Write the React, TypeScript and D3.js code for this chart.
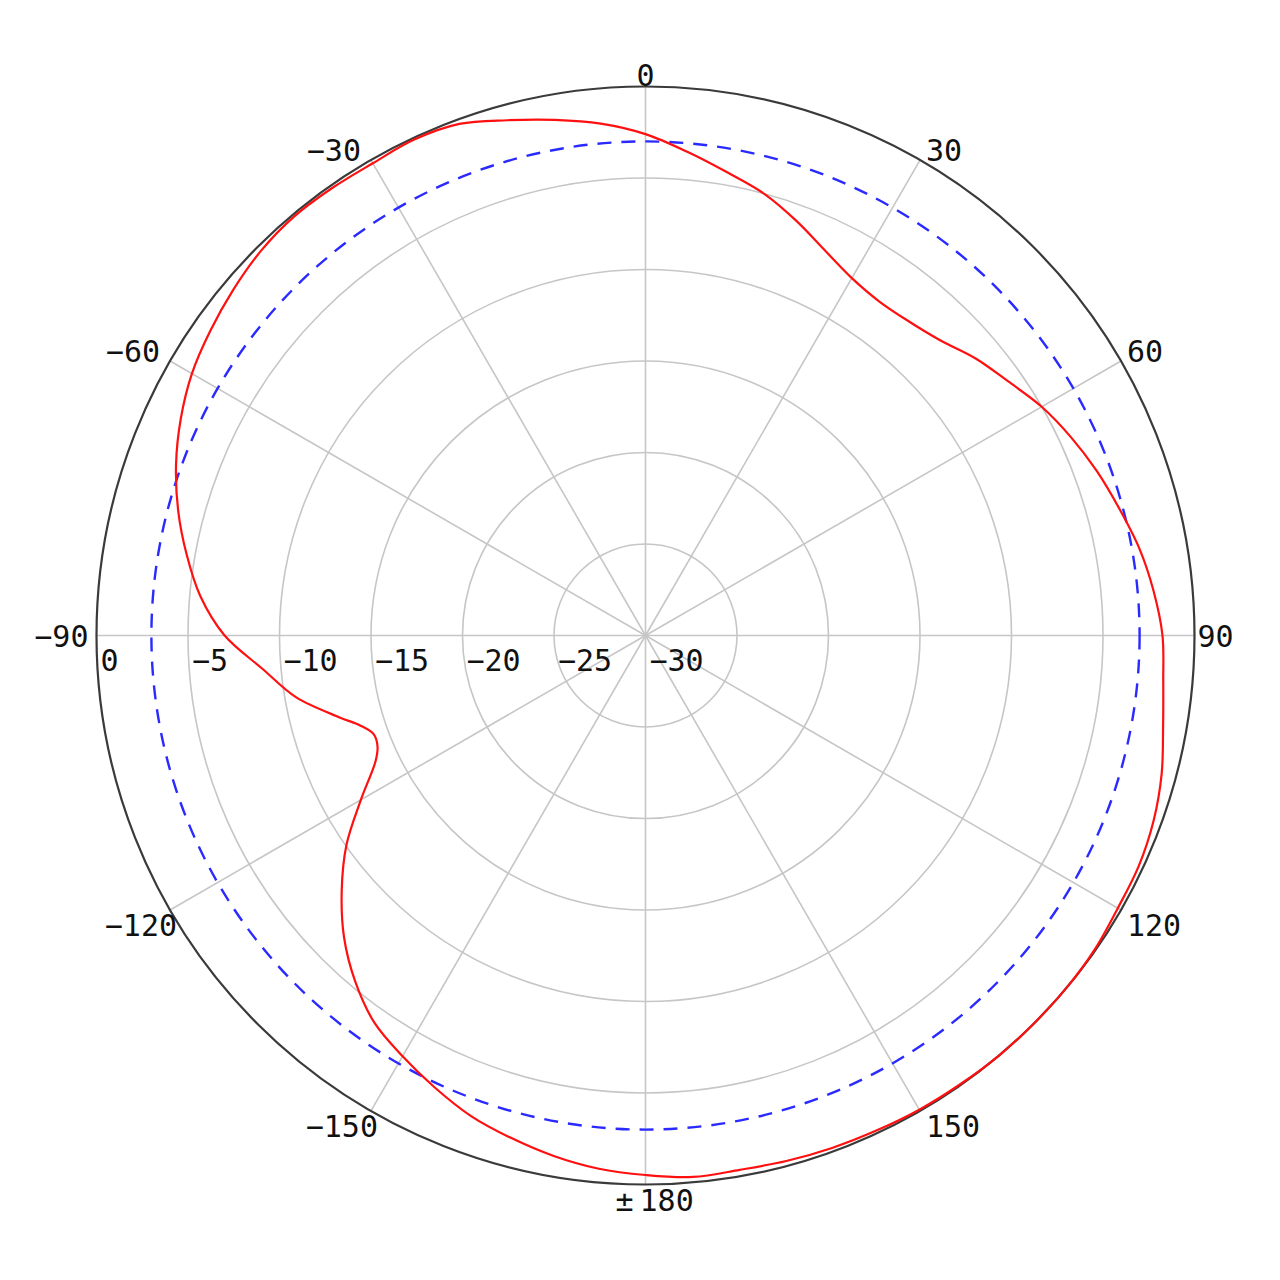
import React, { useEffect } from "react";
import * as d3 from "d3";

// Measured antenna pattern (degrees, dB)
const ANGLES = [
  -180, -175, -170, -165, -160, -155, -150, -145, -140, -135, -130, -125, -120, -115, -112.5, -110,
  -107.5, -105, -100, -95, -90, -85, -80, -75, -70, -65, -60, -55, -50, -45, -40, -35, -30, -25, -20,
  -15, -10, -5, 0, 5, 10, 15, 20, 25, 30, 35, 40, 45, 50, 55, 60, 65, 70, 75, 80, 85, 90, 95,
  100, 105, 110, 115, 120, 125, 130, 135, 140, 145, 150, 155, 160, 165, 170, 175,
];
const GAIN_DB = [
  -0.52, -0.75, -1.12, -1.58, -2.07, -2.75, -3.45, -4.17, -5.32, -6.7, -8.33, -10.05, -12.04, -13.72, -14.15, -14.2,
  -13.65, -12.7, -10.6, -9.0, -7.0, -5.59, -4.54, -3.56, -2.7, -1.98, -1.38, -0.97, -0.6, -0.28, -0.12, -0.15, -0.2, -0.1, -0.25,
  -0.85, -1.39, -1.92, -2.6, -3.48, -4.3, -5.0, -5.89, -6.79, -7.45, -7.72, -7.6, -7.2, -6.45, -5.8, -5.0, -4.35, -3.75, -3.2, -2.6, -2.13, -1.75, -1.6,
  -1.28, -0.8, -0.45, -0.25, -0.2, -0.05, 0, 0, 0, -0.05, -0.08, -0.15, -0.2, -0.27, -0.35, -0.3,
];
const REF_LEVEL_DB = -3;
const RING_TICKS = [0, -5, -10, -15, -20, -25, -30];
const RING_LABELS = ["0", "\u22125", "\u221210", "\u221215", "\u221220", "\u221225", "\u221230"];
const ANGLE_TICKS = [0, 30, 60, 90, 120, 150, 180, -150, -120, -90, -60, -30];
const ANGLE_LABELS = ["0", "30", "60", "90", "120", "150", "\u00b1180", "\u2212150", "\u2212120", "\u221290", "\u221260", "\u221230"];

const W = 1280;
const H = 1280;
const CX = 645.5;
const CY = 635.5;
const R = 549;
const FONT = "'DejaVu Sans Mono', monospace";

export default function App() {
  useEffect(() => {
    document.body.style.margin = "0";
    document.body.style.overflow = "hidden";
  }, []);

  const r = d3.scaleLinear().domain([-30, 0]).range([0, R]).clamp(true);
  const a = d3.scaleLinear().domain([-180, 180]).range([-Math.PI, Math.PI]);

  const pts = ANGLES.map((ang, i) => [a(ang), r(GAIN_DB[i])] as [number, number]);
  const line = d3
    .lineRadial<[number, number]>()
    .angle((d) => d[0])
    .radius((d) => d[1])
    .curve(d3.curveCatmullRomClosed.alpha(0.5));

  const gridGray = "#c6c6c6";

  const angleLabel = (ang: number, i: number) => {
    const rad = a(ang);
    const px = CX + R * Math.sin(rad);
    const py = CY - R * Math.cos(rad);
    const lbl = ANGLE_LABELS[i];
    const common = { fontFamily: FONT, fontSize: 30, fill: "#111" };
    if (ang === 0) {
      return (
        <text key={i} x={px} y={py - 1} textAnchor="middle" {...common}>
          {lbl}
        </text>
      );
    }
    if (ang === 180) {
      return (
        <text key={i} x={px - 30} y={py + 26} {...common}>
          <tspan>{lbl.slice(0, 1)}</tspan>
          <tspan dx={6}>{lbl.slice(1)}</tspan>
        </text>
      );
    }
    if (ang === 90) {
      return (
        <text key={i} x={px + 3} y={py + 11} textAnchor="start" {...common}>
          {lbl}
        </text>
      );
    }
    if (ang === -90) {
      return (
        <text key={i} x={px - 8} y={py + 11} textAnchor="end" {...common}>
          {lbl}
        </text>
      );
    }
    const upper = Math.abs(ang) < 90;
    const right = ang > 0;
    const x = right ? px + 6 : upper ? px - 10 : px + 7;
    const y = upper ? py + 1 : py + 26;
    return (
      <text key={i} x={x} y={y} textAnchor={right ? "start" : "end"} {...common}>
        {lbl}
      </text>
    );
  };

  return (
    <svg
      width={W}
      height={H}
      style={{ position: "absolute", left: 0, top: 0, display: "block", background: "#fff" }}
    >
      <rect x={0} y={0} width={W} height={H} fill="#fff" />
      {/* rings */}
      {RING_TICKS.filter((v) => v > -30 && v < 0).map((v) => (
        <circle key={v} cx={CX} cy={CY} r={r(v)} fill="none" stroke={gridGray} strokeWidth={1.6} />
      ))}
      {/* spokes */}
      {ANGLE_TICKS.map((ang) => {
        const rad = a(ang);
        return (
          <line
            key={ang}
            x1={CX}
            y1={CY}
            x2={CX + R * Math.sin(rad)}
            y2={CY - R * Math.cos(rad)}
            stroke={gridGray}
            strokeWidth={1.6}
          />
        );
      })}
      {/* reference dashed circle */}
      <circle
        cx={CX}
        cy={CY}
        r={r(REF_LEVEL_DB)}
        fill="none"
        stroke="#2a2aff"
        strokeWidth={2.4}
        strokeDasharray="14 10"
      />
      {/* outer circle */}
      <circle cx={CX} cy={CY} r={r(0)} fill="none" stroke="#3a3a3a" strokeWidth={2.2} />
      {/* pattern */}
      <path
        d={line(pts) || ""}
        transform={`translate(${CX},${CY})`}
        fill="none"
        stroke="#ff1010"
        strokeWidth={2.2}
      />
      {/* radial labels */}
      {RING_TICKS.map((v, i) => (
        <text key={v} x={CX - r(v) + 4} y={CY + 35} fontFamily={FONT} fontSize={30} fill="#111">
          {RING_LABELS[i]}
        </text>
      ))}
      {/* angle labels */}
      {ANGLE_TICKS.map((ang, i) => angleLabel(ang, i))}
    </svg>
  );
}
